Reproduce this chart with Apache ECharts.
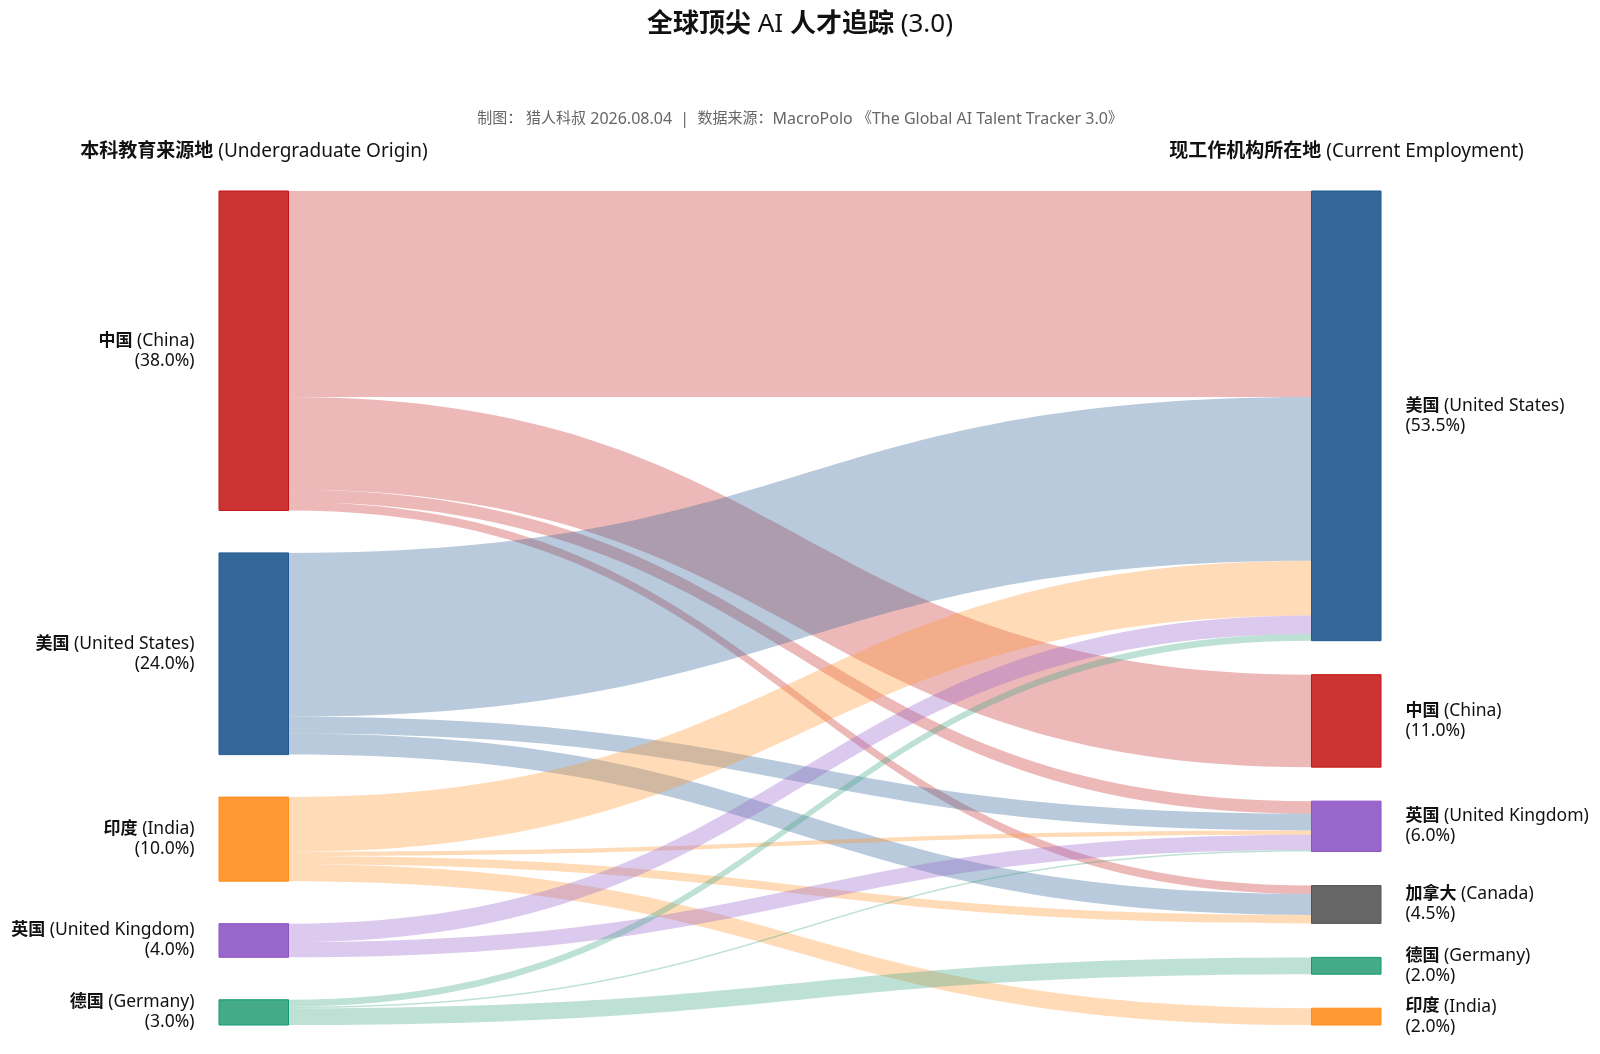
<!DOCTYPE html>
<html><head><meta charset="utf-8">
<script src="https://cdn.jsdelivr.net/npm/echarts@6/dist/echarts.min.js"></script>
<style>html,body{margin:0;padding:0;background:#fff}#main{width:1600px;height:1054px}</style>
</head><body><div id="main"></div>
<script>
// ---------- data ----------
const originKeys = ['CN', 'US', 'IN', 'UK', 'DE'];
const originZh = ['中国', '美国', '印度', '英国', '德国'];
const originEn = ['China', 'United States', 'India', 'United Kingdom', 'Germany'];
const originShare = [38.0, 24.0, 10.0, 4.0, 3.0];

const employKeys = ['US', 'CN', 'UK', 'CA', 'DE', 'IN'];
const employZh = ['美国', '中国', '英国', '加拿大', '德国', '印度'];
const employEn = ['United States', 'China', 'United Kingdom', 'Canada', 'Germany', 'India'];
const employShare = [53.5, 11.0, 6.0, 4.5, 2.0, 2.0];

const flowFrom  = ['CN', 'CN', 'CN', 'CN', 'US', 'US', 'US', 'IN', 'IN', 'IN', 'IN', 'UK', 'UK', 'DE', 'DE', 'DE'];
const flowTo    = ['US', 'CN', 'UK', 'CA', 'US', 'UK', 'CA', 'US', 'UK', 'CA', 'IN', 'US', 'UK', 'US', 'UK', 'DE'];
const flowValue = [24.5, 11.0, 1.5, 1.0, 19.5, 2.0, 2.5, 6.5, 0.5, 1.0, 2.0, 2.2, 1.8, 0.8, 0.2, 2.0];

// ---------- styles ----------
const FONT = "'Noto Sans', 'Noto Sans CJK SC', sans-serif";
const fill = { CN: '#CC3333', US: '#336699', IN: '#FF9933', UK: '#9966CC', DE: '#44AA88', CA: '#666666' };
const edge = { CN: '#C41414', US: '#1F5A96', IN: '#FF8C1A', UK: '#8A55C4', DE: '#119977', CA: '#555555' };

// spacer nodes (zero value, invisible) make the library lay out the two columns with different gaps
const LEFT_SPACERS = 4, RIGHT_SPACERS = 3;
const nodes = [];
let sp = 0;
function spacer(depth) {
  nodes.push({ name: 'spacer' + (sp++), depth: depth, itemStyle: { opacity: 0, borderWidth: 0 }, label: { show: false } });
}
originKeys.forEach((k, i) => {
  if (i > 0) for (let s = 0; s < LEFT_SPACERS; s++) spacer(0);
  nodes.push({
    name: 'o_' + k, depth: 0,
    itemStyle: { color: fill[k], borderColor: edge[k], borderWidth: 1 },
    label: { position: 'left', formatter: '{b|' + originZh[i] + '} (' + originEn[i] + ')\n(' + originShare[i].toFixed(1) + '%)' }
  });
});
employKeys.forEach((k, i) => {
  if (i > 0) for (let s = 0; s < RIGHT_SPACERS; s++) spacer(1);
  nodes.push({
    name: 't_' + k, depth: 1,
    itemStyle: { color: fill[k], borderColor: edge[k], borderWidth: 1 },
    label: { position: 'right', formatter: '{b|' + employZh[i] + '} (' + employEn[i] + ')\n(' + employShare[i].toFixed(1) + '%)' }
  });
});
const links = flowFrom.map((f, i) => ({ source: 'o_' + f, target: 't_' + flowTo[i], value: flowValue[i] }));

const chart = echarts.init(document.getElementById('main'));
chart.setOption({
  animation: false,
  backgroundColor: '#fff',
  title: [
    {
      text: '{b|全球顶尖} {n|AI} {b|人才追踪} {n|(3.0)}',
      left: 'center', top: 10, padding: 0,
      textStyle: {
        fontFamily: FONT, fontSize: 26, color: '#111', lineHeight: 30,
        rich: {
          b: { fontFamily: FONT, fontSize: 26, fontWeight: 'bold', color: '#111', lineHeight: 30 },
          n: { fontFamily: FONT, fontSize: 26, fontWeight: 'normal', color: '#111', lineHeight: 30 }
        }
      }
    },
    {
      text: '{c|制图： 猎人科叔} 2026.08.04  |  {c|数据来源：}MacroPolo {c|《}The Global AI Talent Tracker 3.0{c|》}',
      left: 'center', top: 110, padding: 0,
      textStyle: {
        fontFamily: FONT, fontSize: 16, fontWeight: 'normal', color: '#666', lineHeight: 18,
        rich: { c: { fontFamily: FONT, fontSize: 15, color: '#666', lineHeight: 18 } }
      }
    }
  ],
  graphic: [
    {
      type: 'text', x: 254, y: 152,
      style: {
        text: '{b|本科教育来源地} (Undergraduate Origin)', align: 'center', verticalAlign: 'middle',
        font: '19px ' + FONT, fill: '#111',
        rich: { b: { fontFamily: FONT, fontSize: 19, fontWeight: 'bold', fill: '#111' } }
      }
    },
    {
      type: 'text', x: 1346.5, y: 152,
      style: {
        text: '{b|现工作机构所在地} (Current Employment)', align: 'center', verticalAlign: 'middle',
        font: '19px ' + FONT, fill: '#111',
        rich: { b: { fontFamily: FONT, fontSize: 19, fontWeight: 'bold', fill: '#111' } }
      }
    }
  ],
  series: [{
    type: 'sankey',
    left: 219, right: 219, top: 191, bottom: 29,
    nodeWidth: 69.5,
    nodeGap: 8.5,
    layoutIterations: 0,
    nodeAlign: 'justify',
    draggable: false,
    emphasis: { disabled: true },
    data: nodes,
    links: links,
    lineStyle: { color: 'source', opacity: 0.35, curveness: 0.5 },
    label: {
      fontFamily: FONT, fontSize: 17.5, color: '#111', distance: 24, lineHeight: 20,
      rich: { b: { fontFamily: FONT, fontSize: 17, fontWeight: 'bold', color: '#111', lineHeight: 20 } }
    }
  }]
});
</script>
</body></html>
